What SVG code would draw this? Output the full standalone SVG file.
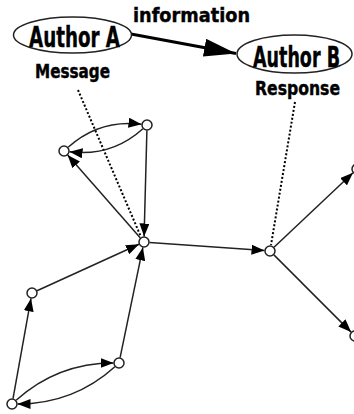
<svg xmlns="http://www.w3.org/2000/svg" width="354" height="414" viewBox="0 0 354 414">
<defs>
<style>
.lbl{font-family:"DejaVu Sans Condensed","DejaVu Sans","Liberation Sans",sans-serif;font-weight:bold;font-stretch:condensed;fill:#000;stroke:#000;stroke-width:0.4}
.node{fill:#fff;stroke:#222;stroke-width:1.5}
.edge{fill:none;stroke:#222;stroke-width:1.5;marker-end:url(#ah)}
.dot{fill:none;stroke:#000;stroke-width:2;stroke-dasharray:2,2}
.author{fill:#fff;stroke:#222;stroke-width:1.5}
</style>
<marker id="ah" markerUnits="userSpaceOnUse" markerWidth="13" markerHeight="10" refX="13" refY="5" orient="auto">
<path d="M0,0 L13,5 L0,10 Z" fill="#000"/>
</marker>
<marker id="big" markerUnits="userSpaceOnUse" markerWidth="32" markerHeight="18" refX="32" refY="9" orient="auto">
<path d="M0,0 L32,9 L0,18 Z" fill="#000"/>
</marker>
</defs>
<g id="connectors">
<line x1="131" y1="34" x2="236" y2="53.5" stroke="#000" stroke-width="3" marker-end="url(#big)"/>
<line class="dot" x1="78" y1="90" x2="141" y2="237"/>
<line class="dot" x1="295" y1="102" x2="271" y2="245"/>
<line class="edge" x1="146.9" y1="130.5" x2="144.1" y2="236.5"/>
<line class="edge" x1="140.4" y1="237.9" x2="67.6" y2="155.1"/>
<line class="edge" x1="149.5" y1="242.4" x2="264.5" y2="250.6"/>
<line class="edge" x1="274" y1="247.2" x2="353" y2="172.8"/>
<line class="edge" x1="273.9" y1="254.9" x2="351.1" y2="332.1"/>
<line class="edge" x1="37" y1="290.7" x2="139" y2="244.3"/>
<line class="edge" x1="120.1" y1="357.6" x2="142.9" y2="247.4"/>
<line class="edge" x1="13" y1="398.6" x2="31" y2="298.4"/>
<path class="edge" d="M68.1,147.3 Q99.5,119 141.5,124.3"/>
<path class="edge" d="M142.9,128.7 Q111.5,157 69.5,151.7"/>
<path class="edge" d="M16.1,400.3 Q57.5,363 113.5,363"/>
<path class="edge" d="M114.9,366.7 Q73.5,404 17.5,404"/>
</g>
<g id="authorA">
<ellipse class="author" cx="72.5" cy="35" rx="59" ry="18"/>
<text class="lbl" x="29" y="47" font-size="29" textLength="91" lengthAdjust="spacingAndGlyphs">Author A</text>
<text class="lbl" x="35" y="78" font-size="19" textLength="75" lengthAdjust="spacingAndGlyphs">Message</text>
</g>
<g id="authorB">
<ellipse class="author" cx="294.5" cy="54" rx="57.5" ry="19"/>
<text class="lbl" x="253" y="67" font-size="29" textLength="87" lengthAdjust="spacingAndGlyphs">Author B</text>
<text class="lbl" x="255" y="95" font-size="19" textLength="85" lengthAdjust="spacingAndGlyphs">Response</text>
</g>
<g id="info">
<text class="lbl" x="133" y="22" font-size="20" textLength="117" lengthAdjust="spacingAndGlyphs">information</text>
</g>
<g id="n-hub"><circle class="node" cx="144" cy="242" r="5"/></g>
<g id="n-tr"><circle class="node" cx="147" cy="125" r="5"/></g>
<g id="n-tl"><circle class="node" cx="64" cy="151" r="5"/></g>
<g id="n-rh"><circle class="node" cx="270" cy="251" r="5"/></g>
<g id="n-p1"><circle class="node" cx="357" cy="169" r="5"/></g>
<g id="n-p2"><circle class="node" cx="355" cy="336" r="5"/></g>
<g id="n-lm"><circle class="node" cx="32" cy="293" r="5"/></g>
<g id="n-br"><circle class="node" cx="119" cy="363" r="5"/></g>
<g id="n-bl"><circle class="node" cx="12" cy="404" r="5"/></g>
</svg>
